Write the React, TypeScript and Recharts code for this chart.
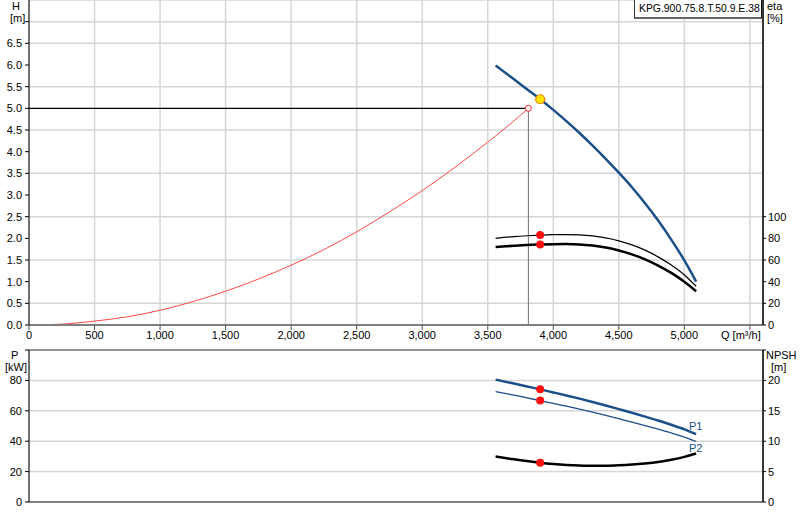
import React from "react";
import {
  CartesianGrid,
  ComposedChart,
  Line,
  ReferenceLine,
  Scatter,
  XAxis,
  YAxis,
} from "recharts";

// flow grid for the pump curves [m3/h]
const pumpFlow = [
  3560, 3700, 3800, 3900, 4000, 4100, 4200, 4300, 4400, 4500, 4600, 4700, 4800,
  4900, 5000, 5090,
];
const headValues = [
  5.99, 5.67, 5.44, 5.21, 4.965, 4.705, 4.43, 4.14, 3.835, 3.515, 3.18, 2.81,
  2.41, 1.97, 1.49, 1.0,
];
const etaUpper = [
  80, 81.6, 82.4, 83.0, 83.4, 83.5, 83.2, 82.2, 80.4, 77.7, 74.0, 69.1, 62.9,
  55.3, 46.2, 35.8,
];
const etaLower = [
  72, 73.2, 73.9, 74.3, 74.6, 74.7, 74.4, 73.3, 71.5, 68.8, 65.2, 60.6, 54.9,
  48.1, 40.0, 31.2,
];
const powerP1 = [
  80.5, 77.9, 76.0, 74.1, 72.1, 70.1, 68.0, 65.8, 63.5, 61.1, 58.7, 56.2, 53.6,
  50.8, 47.8, 44.6,
];
const powerP2 = [
  72.6, 70.3, 68.5, 66.7, 64.9, 63.0, 61.1, 59.1, 57.0, 54.8, 52.6, 50.3, 47.9,
  45.4, 42.7, 39.8,
];
const npshValues = [
  7.47, 7.02, 6.74, 6.47, 6.26, 6.1, 6.0, 5.95, 5.96, 6.03, 6.15, 6.33, 6.58,
  6.95, 7.42, 7.97,
];

// system curve
const systemFlow = [
  0, 250, 500, 750, 1000, 1250, 1500, 1750, 2000, 2250, 2500, 2750, 3000, 3250,
  3500, 3750, 3810,
];
const systemHead = [
  0, 0.02, 0.09, 0.19, 0.34, 0.54, 0.78, 1.06, 1.38, 1.74, 2.15, 2.61, 3.1,
  3.64, 4.22, 4.84, 5.0,
];

// operating points
const requiredQ = 3810;
const requiredH = 5.0;
const dutyQ = 3900;
const dutyH = 5.21;
const dutyEtaUpper = 83.0;
const dutyEtaLower = 74.3;
const dutyP1 = 74.1;
const dutyP2 = 66.7;
const dutyNpsh = 6.47;

const qTicks = [0, 500, 1000, 1500, 2000, 2500, 3000, 3500, 4000, 4500, 5000, 5500];
const hTicks = [0, 0.5, 1, 1.5, 2, 2.5, 3, 3.5, 4, 4.5, 5, 5.5, 6, 6.5, 7];
const etaTicks = [0, 20, 40, 60, 80, 100];
const pTicks = [0, 20, 40, 60, 80, 100];
const npshTicks = [0, 5, 10, 15, 20, 25];

const pairs = (xs: number[], ys: number[]) => xs.map((q, i) => ({ q, v: ys[i] }));

const headData = pairs(pumpFlow, headValues);
const etaUpperData = pairs(pumpFlow, etaUpper);
const etaLowerData = pairs(pumpFlow, etaLower);
const p1Data = pairs(pumpFlow, powerP1);
const p2Data = pairs(pumpFlow, powerP2);
const npshData = pairs(pumpFlow, npshValues);
const systemData = pairs(systemFlow, systemHead);

const FONT = "'Liberation Sans', Arial, sans-serif";
const tickStyle = { fontSize: 11, fill: "#000", fontFamily: FONT };
const BLUE = "#1b4f8a";

const redDot = (p: any) => <circle cx={p.cx} cy={p.cy} r={4} fill="#ff1010" />;

const label = (text: string, left: number, top: number, extra: any = {}) => (
  <div
    style={{
      position: "absolute",
      left,
      top,
      fontSize: 11,
      fontFamily: FONT,
      lineHeight: "12px",
      whiteSpace: "nowrap",
      ...extra,
    }}
  >
    {text}
  </div>
);

export default function App() {
  return (
    <div
      style={{
        position: "absolute",
        left: 0,
        top: 0,
        width: 800,
        height: 520,
        background: "#fff",
      }}
    >
      <div style={{ position: "absolute", left: 0, top: 0 }}>
        <ComposedChart
          width={800}
          height={345}
          margin={{ top: 0, right: 0, bottom: 0, left: 0 }}
        >
          <CartesianGrid yAxisId="h" stroke="#d6d6d6" strokeWidth={1.5} />
          <XAxis
            dataKey="q"
            type="number"
            domain={[0, 5600]}
            ticks={qTicks}
            tickFormatter={(v) => (v === 5500 ? "" : v.toLocaleString("en-US"))}
            tick={tickStyle}
            height={20}
            tickSize={5}
            tickMargin={1}
            axisLine={{ stroke: "#808080", strokeWidth: 2 }}
            tickLine={{ stroke: "#555" }}
            allowDataOverflow
          />
          <YAxis
            yAxisId="h"
            type="number"
            domain={[0, 7.5]}
            ticks={hTicks}
            tickFormatter={(v) => (v === 7 ? "" : v.toFixed(1))}
            tick={tickStyle}
            width={29}
            tickSize={4}
            tickMargin={3}
            axisLine={{ stroke: "#000" }}
            tickLine={{ stroke: "#000" }}
            allowDataOverflow
          />
          <YAxis
            yAxisId="eta"
            orientation="right"
            type="number"
            domain={[0, 300]}
            ticks={etaTicks}
            tick={tickStyle}
            width={37}
            tickSize={3}
            tickMargin={2}
            axisLine={{ stroke: "#000", strokeWidth: 1.5 }}
            tickLine={{ stroke: "#000" }}
            allowDataOverflow
          />
          <ReferenceLine
            yAxisId="h"
            segment={[
              { x: 0, y: requiredH },
              { x: requiredQ, y: requiredH },
            ]}
            stroke="#000"
            strokeWidth={1.2}
          />
          <ReferenceLine
            yAxisId="h"
            segment={[
              { x: requiredQ, y: 0 },
              { x: requiredQ, y: requiredH },
            ]}
            stroke="#707070"
            strokeWidth={1}
          />
          <Line
            yAxisId="h"
            data={systemData}
            dataKey="v"
            type="monotone"
            stroke="#ff4848"
            strokeWidth={1}
            dot={false}
            isAnimationActive={false}
          />
          <Line
            yAxisId="eta"
            data={etaUpperData}
            dataKey="v"
            type="monotone"
            stroke="#000"
            strokeWidth={1.2}
            dot={false}
            isAnimationActive={false}
          />
          <Line
            yAxisId="eta"
            data={etaLowerData}
            dataKey="v"
            type="monotone"
            stroke="#000"
            strokeWidth={2.5}
            dot={false}
            isAnimationActive={false}
          />
          <Line
            yAxisId="h"
            data={headData}
            dataKey="v"
            type="monotone"
            stroke={BLUE}
            strokeWidth={2.5}
            dot={false}
            isAnimationActive={false}
          />
          <Scatter
            yAxisId="eta"
            data={[
              { q: dutyQ, v: dutyEtaUpper },
              { q: dutyQ, v: dutyEtaLower },
            ]}
            dataKey="v"
            shape={redDot}
            isAnimationActive={false}
          />
          <Scatter
            yAxisId="h"
            data={[{ q: requiredQ, v: requiredH }]}
            dataKey="v"
            shape={(p: any) => (
              <circle cx={p.cx} cy={p.cy} r={3} fill="#fff" stroke="#ff2020" strokeWidth={1} />
            )}
            isAnimationActive={false}
          />
          <Scatter
            yAxisId="h"
            data={[{ q: dutyQ, v: dutyH }]}
            dataKey="v"
            shape={(p: any) => (
              <circle cx={p.cx} cy={p.cy} r={4.5} fill="#ffe400" stroke="#f08000" strokeWidth={1.2} />
            )}
            isAnimationActive={false}
          />
        </ComposedChart>
      </div>

      <div style={{ position: "absolute", left: 0, top: 345 }}>
        <ComposedChart
          width={800}
          height={175}
          margin={{ top: 5, right: 0, bottom: 0, left: 0 }}
        >
          <CartesianGrid yAxisId="p" stroke="#d6d6d6" strokeWidth={1.5} />
          <XAxis
            dataKey="q"
            type="number"
            domain={[0, 5600]}
            ticks={qTicks}
            tick={false}
            height={18}
            tickLine={false}
            axisLine={{ stroke: "#808080", strokeWidth: 2 }}
            allowDataOverflow
          />
          <YAxis
            yAxisId="p"
            type="number"
            domain={[0, 100]}
            ticks={pTicks}
            tickFormatter={(v) => (v === 100 ? "" : String(v))}
            tick={tickStyle}
            width={29}
            tickSize={4}
            tickMargin={3}
            axisLine={{ stroke: "#000" }}
            tickLine={{ stroke: "#000" }}
          />
          <YAxis
            yAxisId="npsh"
            orientation="right"
            type="number"
            domain={[0, 25]}
            ticks={npshTicks}
            tickFormatter={(v) => (v === 25 ? "" : String(v))}
            tick={tickStyle}
            width={37}
            tickSize={3}
            tickMargin={2}
            axisLine={{ stroke: "#000", strokeWidth: 1.5 }}
            tickLine={{ stroke: "#000" }}
          />
          <ReferenceLine yAxisId="p" y={100} stroke="#7a7a7a" strokeWidth={1.5} />
          <Line
            yAxisId="p"
            data={p1Data}
            dataKey="v"
            type="monotone"
            stroke={BLUE}
            strokeWidth={2.5}
            dot={false}
            isAnimationActive={false}
          />
          <Line
            yAxisId="p"
            data={p2Data}
            dataKey="v"
            type="monotone"
            stroke={BLUE}
            strokeWidth={1.3}
            dot={false}
            isAnimationActive={false}
          />
          <Line
            yAxisId="npsh"
            data={npshData}
            dataKey="v"
            type="monotone"
            stroke="#000"
            strokeWidth={2.5}
            dot={false}
            isAnimationActive={false}
          />
          <Scatter
            yAxisId="p"
            data={[
              { q: dutyQ, v: dutyP1 },
              { q: dutyQ, v: dutyP2 },
            ]}
            dataKey="v"
            shape={redDot}
            isAnimationActive={false}
          />
          <Scatter
            yAxisId="npsh"
            data={[{ q: dutyQ, v: dutyNpsh }]}
            dataKey="v"
            shape={redDot}
            isAnimationActive={false}
          />
        </ComposedChart>
      </div>

      {label("H", 12, 0)}
      {label("[m]", 10, 12)}
      {label("eta", 767, 0)}
      {label("[%]", 767, 12)}
      {label("Q [m³/h]", 721, 329)}
      {label("P", 11, 349)}
      {label("[kW]", 5, 361)}
      {label("NPSH", 766, 349)}
      {label("[m]", 771, 361)}
      {label("P1", 689, 420, { color: BLUE })}
      {label("P2", 689, 442, { color: BLUE })}
      <div
        style={{
          position: "absolute",
          left: 634,
          top: -1,
          width: 122,
          height: 18,
          background: "#fff",
          borderLeft: "1px solid #333",
          borderRight: "1px solid #111",
          borderBottom: "2px solid #666",
          fontSize: 10.4,
          fontFamily: FONT,
          lineHeight: "19px",
          paddingLeft: 4,
          boxSizing: "content-box",
          whiteSpace: "nowrap",
          overflow: "hidden",
        }}
      >
        KPG.900.75.8.T.50.9.E.38
      </div>
    </div>
  );
}
